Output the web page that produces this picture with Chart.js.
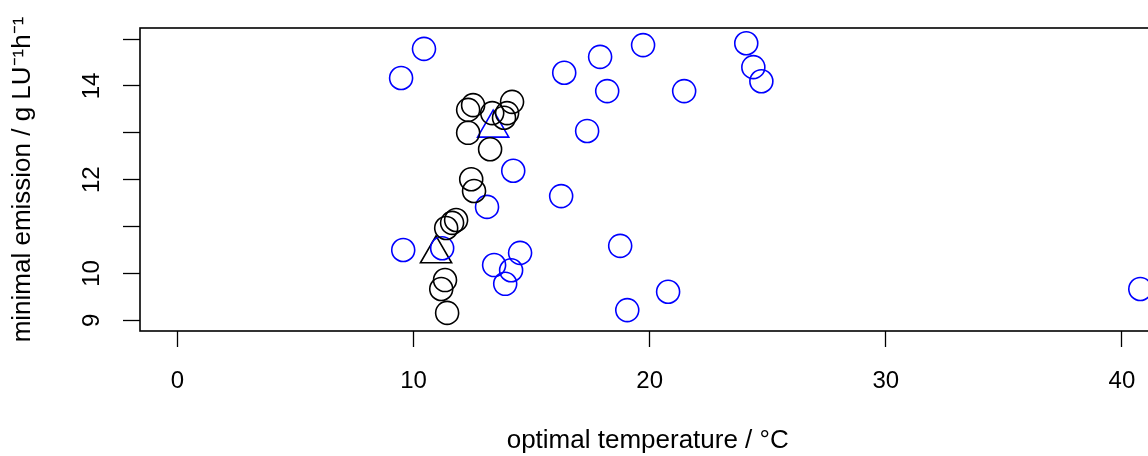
<!DOCTYPE html>
<html>
<head>
<meta charset="utf-8">
<script src="https://cdn.jsdelivr.net/npm/chart.js@4/dist/chart.umd.min.js"></script>
<style>
html, body { margin: 0; padding: 0; background: #fff; overflow: hidden; }
#wrap { width: 1148px; height: 456px; overflow: hidden; }
</style>
</head>
<body>
<div id="wrap"><canvas id="plotCanvas" width="1175" height="456"></canvas></div>
<script>
// black circles
var blackX = [12.31, 12.52, 12.31, 13.33, 14.17, 13.96, 13.83, 13.24, 12.44, 12.56, 11.80, 11.63, 11.38, 11.33, 11.17, 11.42];
var blackY = [13.49, 13.59, 13.00, 13.42, 13.66, 13.42, 13.32, 12.65, 12.01, 11.76, 11.14, 11.08, 10.97, 9.86, 9.67, 9.16];
// blue circles
var blueX = [9.47, 10.44, 9.56, 11.21, 13.11, 13.41, 13.88, 14.13, 14.22, 14.51, 16.38, 17.90, 19.72, 18.20, 21.46, 17.35, 24.09, 24.39, 24.73, 16.25, 18.75, 20.78, 19.05, 40.78];
var blueY = [14.17, 14.79, 10.50, 10.54, 11.42, 10.18, 9.78, 10.07, 12.19, 10.44, 14.28, 14.62, 14.87, 13.89, 13.89, 13.04, 14.91, 14.40, 14.10, 11.65, 10.59, 9.61, 9.22, 9.67];
// triangles
var blackTriX = [10.95];
var blackTriY = [10.42];
var blueTriX = [13.37];
var blueTriY = [13.10];

var xTicks = [0, 10, 20, 30, 40];
var yTicks = [9, 10, 11, 12, 13, 14, 15];
var yLabelsShown = [9, 10, 12, 14];

var FONT = "'Liberation Sans', Arial, Helvetica, sans-serif";

function pts(xs, ys) {
    return xs.map(function (x, i) { return { x: x, y: ys[i] }; });
}

function markerSet(data, color, style, radius) {
    return {
        data: data,
        pointStyle: style,
        pointRadius: radius,
        pointHoverRadius: radius,
        pointBorderWidth: 1.6,
        pointBorderColor: color,
        pointBackgroundColor: 'rgba(0,0,0,0)',
        showLine: false
    };
}

var boxPlugin = {
    id: 'box',
    afterDraw: function (chart) {
        var a = chart.chartArea, ctx = chart.ctx;
        ctx.save();
        ctx.strokeStyle = '#000';
        ctx.lineWidth = 1.6;
        ctx.strokeRect(a.left, a.top, a.right - a.left, a.bottom - a.top);
        ctx.restore();
    }
};

Chart.defaults.font.family = FONT;
Chart.defaults.color = '#000';

new Chart(document.getElementById('plotCanvas'), {
    type: 'scatter',
    data: {
        datasets: [
            markerSet(pts(blackX, blackY), '#000000', 'circle', 11.5),
            markerSet(pts(blueX, blueY), '#0000ff', 'circle', 11.5),
            markerSet(pts(blackTriX, blackTriY), '#000000', 'triangle', 18),
            markerSet(pts(blueTriX, blueTriY), '#0000ff', 'triangle', 18)
        ]
    },
    options: {
        responsive: false,
        animation: false,
        events: [],
        layout: { padding: { top: 28, left: 0, right: 0, bottom: 0 } },
        plugins: { legend: { display: false }, tooltip: { enabled: false } },
        scales: {
            x: {
                type: 'linear',
                min: -1.589,
                max: 41.42,
                afterBuildTicks: function (s) { s.ticks = xTicks.map(function (v) { return { value: v }; }); },
                afterFit: function (s) { s.height = 125; s.paddingLeft = 0; s.paddingRight = 0; },
                border: { display: false },
                grid: { drawOnChartArea: false, drawTicks: true, tickLength: 16, tickWidth: 1.3, tickColor: '#000' },
                ticks: { font: { size: 24 }, padding: 20, maxRotation: 0, autoSkip: false },
                title: { display: true, text: 'optimal temperature / °C', font: { size: 26, lineHeight: 1.15 }, padding: { top: 0, bottom: 0 } }
            },
            y: {
                type: 'linear',
                min: 8.774,
                max: 15.235,
                afterBuildTicks: function (s) { s.ticks = yTicks.map(function (v) { return { value: v }; }); },
                afterFit: function (s) { s.width = 140; s.paddingTop = 0; s.paddingBottom = 0; },
                border: { display: false },
                grid: { drawOnChartArea: false, drawTicks: true, tickLength: 17, tickWidth: 1.3, tickColor: '#000' },
                ticks: {
                    font: { size: 24 },
                    padding: 17,
                    minRotation: 90,
                    maxRotation: 90,
                    crossAlign: 'center',
                    autoSkip: false,
                    callback: function (v) { return yLabelsShown.indexOf(v) >= 0 ? String(v) : ''; }
                },
                title: { display: true, text: 'minimal emission / g LU\u207B\u00B9h\u207B\u00B9', font: { size: 26, lineHeight: 1.15 }, padding: { top: 8, bottom: 0 } }
            }
        }
    },
    plugins: [boxPlugin]
});
</script>
</body>
</html>
